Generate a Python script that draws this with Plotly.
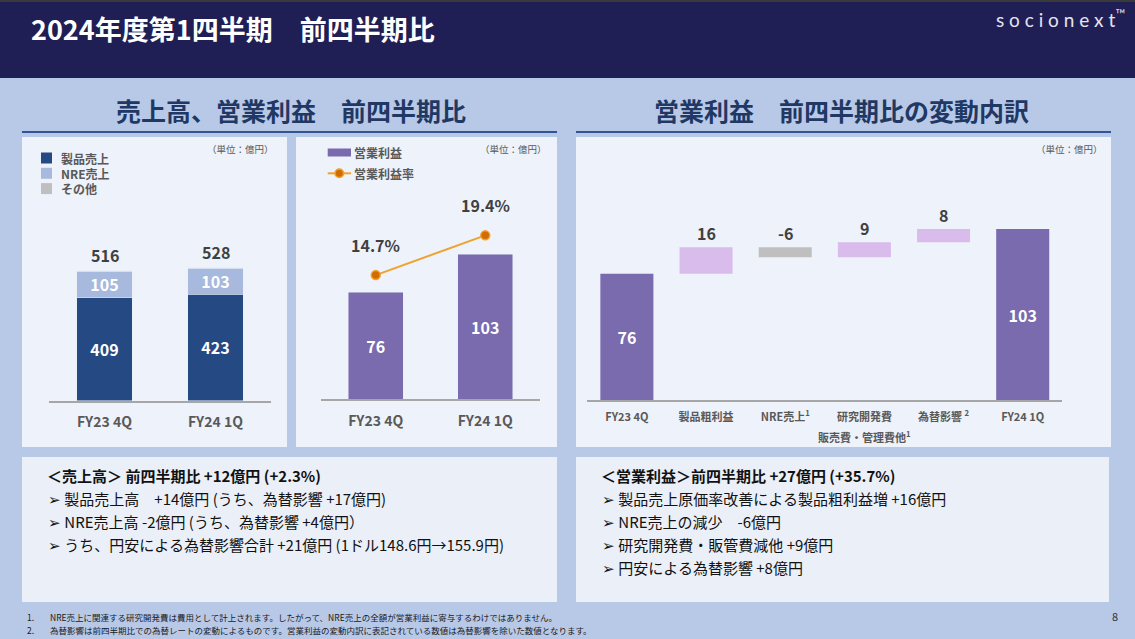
import plotly.graph_objects as go

W, H = 1135, 639

# ---------------- data ----------------
periods = ["FY23 4Q", "FY24 1Q"]
product_sales = [409, 423]
nre_sales = [105, 103]
other_sales = [2, 2]
op_income = [76, 103]
op_margin = [14.7, 19.4]

wf_cats = ["FY23 4Q", "製品粗利益", "NRE売上", "研究開発費", "為替影響", "FY24 1Q"]
wf_ticktext = ["FY23 4Q", "製品粗利益", "NRE売上<sup>1</sup>", "研究開発費",
               "為替影響 <sup>2</sup>", "FY24 1Q"]
wf_values = [76, 16, -6, 9, 8, 103]
wf_measures = ["absolute", "relative", "relative", "relative", "relative", "total"]

sales_legend = ["製品売上", "NRE売上", "その他"]
op_legend = ["営業利益", "営業利益率"]

title_text = "2024年度第1四半期　前四半期比"
left_title = "売上高、営業利益　前四半期比"
right_title = "営業利益　前四半期比の変動内訳"
unit_text = "（単位：億円）"

box1_lines = ["<b>＜売上高＞ 前四半期比 +12億円 (+2.3%)</b>",
              "➢ 製品売上高　+14億円 (うち、為替影響 +17億円)",
              "➢ NRE売上高 -2億円 (うち、為替影響 +4億円）",
              "➢ うち、円安による為替影響合計 +21億円 (1ドル148.6円→155.9円)"]
box2_lines = ["<b>＜営業利益＞前四半期比 +27億円 (+35.7%)</b>",
              "➢ 製品売上原価率改善による製品粗利益増 +16億円",
              "➢ NRE売上の減少　-6億円",
              "➢ 研究開発費・販管費減他 +9億円",
              "➢ 円安による為替影響 +8億円"]
footnotes = ["NRE売上に関連する研究開発費は費用として計上されます。したがって、NRE売上の全額が営業利益に寄与するわけではありません。",
             "為替影響は前四半期比での為替レートの変動によるものです。営業利益の変動内訳に表記されている数値は為替影響を除いた数値となります。"]

# ---------------- style ----------------
FONT = "Noto Sans CJK JP"
C_PROD = "#254A83"
C_NRE = "#A7B9DD"
C_OTHER = "#BFBFBF"
C_OP = "#7A6AAE"
C_LINE = "#F0A22E"
C_MARK = "#D26B00"
C_INC = "#D9BCEB"
C_DEC = "#BFBFBF"
C_LABEL = "#404040"
C_TICK = "#595959"
C_NAVY = "#1F3864"


def X(px):
    return px / W


def Y(py):
    return 1 - py / H


def xd(a, b):
    return [a / W, b / W]


def yd(top, bottom):
    return [1 - bottom / H, 1 - top / H]


fig = go.Figure()

inside_font = dict(color="white", size=16, family=FONT, weight="bold")

# ---- chart 1: stacked sales ----
totals = [p + n + o for p, n, o in zip(product_sales, nre_sales, other_sales)]
fig.add_trace(go.Bar(x=periods, y=product_sales, marker_color=C_PROD, width=0.5,
                     text=[str(v) for v in product_sales], textposition="inside",
                     insidetextanchor="middle", textangle=0, constraintext="none",
                     textfont=inside_font,
                     xaxis="x", yaxis="y", showlegend=False, hoverinfo="skip"))
fig.add_trace(go.Bar(x=periods, y=nre_sales, marker_color=C_NRE, width=0.5,
                     text=[str(v) for v in nre_sales], textposition="inside",
                     insidetextanchor="middle", textangle=0, constraintext="none",
                     textfont=inside_font,
                     xaxis="x", yaxis="y", showlegend=False, hoverinfo="skip"))
fig.add_trace(go.Bar(x=periods, y=other_sales, marker_color=C_OTHER, width=0.5,
                     xaxis="x", yaxis="y", showlegend=False, hoverinfo="skip"))

# ---- chart 2: operating income + margin ----
fig.add_trace(go.Bar(x=periods, y=op_income, marker_color=C_OP, width=0.5,
                     text=[str(v) for v in op_income], textposition="inside",
                     insidetextanchor="middle", textangle=0, constraintext="none",
                     textfont=inside_font,
                     xaxis="x2", yaxis="y2", showlegend=False, hoverinfo="skip"))
fig.add_trace(go.Scatter(x=periods, y=op_margin, mode="lines+markers",
                         line=dict(color=C_LINE, width=2),
                         marker=dict(size=9, color=C_MARK, line=dict(color=C_LINE, width=1.5)),
                         xaxis="x2", yaxis="y4", showlegend=False, hoverinfo="skip"))

# ---- chart 3: waterfall ----
wf_text = [str(v) if m != "relative" else "" for v, m in zip(wf_values, wf_measures)]
fig.add_trace(go.Waterfall(x=wf_cats, y=wf_values, measure=wf_measures, width=0.67,
                           increasing=dict(marker=dict(color=C_INC)),
                           decreasing=dict(marker=dict(color=C_DEC)),
                           totals=dict(marker=dict(color=C_OP)),
                           connector=dict(visible=False),
                           text=wf_text, textposition="inside", insidetextanchor="middle",
                           textangle=0, constraintext="none",
                           insidetextfont=inside_font,
                           xaxis="x3", yaxis="y3", showlegend=False, hoverinfo="skip"))

axis_common = dict(type="category", showline=True, linecolor="#A6A6A6", linewidth=1.5,
                   ticks="", showgrid=False, zeroline=False, fixedrange=True)

fig.update_layout(
    width=W, height=H,
    margin=dict(l=0, r=0, t=0, b=0),
    paper_bgcolor="#B8C8E7",
    plot_bgcolor="rgba(0,0,0,0)",
    barmode="stack",
    font=dict(family=FONT, color=C_TICK),
    xaxis=dict(domain=xd(49, 271), anchor="y",
               tickfont=dict(size=14, color=C_TICK, weight="bold"), ticklabelstandoff=8,
               **axis_common),
    yaxis=dict(domain=yd(150, 400.7), anchor="x", range=[0, 250.7 / 0.2519],
               visible=False, fixedrange=True),
    xaxis2=dict(domain=xd(321, 540), anchor="y2",
                tickfont=dict(size=14, color=C_TICK, weight="bold"), ticklabelstandoff=8,
                **axis_common),
    yaxis2=dict(domain=yd(150, 399.3), anchor="x2", range=[0, 249.3 / 1.406],
                visible=False, fixedrange=True),
    yaxis4=dict(domain=yd(150, 399.3), anchor="x2", overlaying="y2",
                range=[0, 249.3 / 8.45], visible=False, fixedrange=True),
    xaxis3=dict(domain=xd(587.3, 1062.3), anchor="y3",
                tickmode="array", tickvals=wf_cats, ticktext=wf_ticktext,
                tickfont=dict(size=11, color=C_TICK, weight="bold"), ticklabelstandoff=6,
                **axis_common),
    yaxis3=dict(domain=yd(150, 400), anchor="x3", range=[0, 250 / 1.66],
                visible=False, fixedrange=True),
)

shapes = []
# header
shapes.append(dict(type="rect", xref="paper", yref="paper", x0=0, x1=1, y0=Y(78), y1=Y(0),
                   fillcolor="#201F55", line=dict(width=0), layer="below"))
shapes.append(dict(type="rect", xref="paper", yref="paper", x0=0, x1=1, y0=Y(2), y1=Y(0),
                   fillcolor="#3A3A3A", line=dict(width=0), layer="below"))
# panels
for (x0, x1, y0, y1, col) in [(22, 287, 137, 447, "#EEF2FA"), (296, 557, 137, 447, "#EEF2FA"),
                              (576, 1111, 137, 447, "#EEF2FA"),
                              (22, 557, 457, 602, "#EAEFF8"), (576, 1109, 457, 602, "#EAEFF8")]:
    shapes.append(dict(type="rect", xref="paper", yref="paper", x0=X(x0), x1=X(x1),
                       y0=Y(y1), y1=Y(y0), fillcolor=col, line=dict(width=0), layer="below"))
# underlines
for (x0, x1) in [(22, 557), (576, 1111)]:
    shapes.append(dict(type="line", xref="paper", yref="paper", x0=X(x0), x1=X(x1),
                       y0=Y(132), y1=Y(132), line=dict(color="#2F5597", width=2)))
# legend chart 1
for i, col in enumerate([C_PROD, C_NRE, C_OTHER]):
    cy = 158 + i * 15.3
    shapes.append(dict(type="rect", xref="paper", yref="paper", x0=X(41), x1=X(52),
                       y0=Y(cy + 5.5), y1=Y(cy - 5.5), fillcolor=col, line=dict(width=0)))
# legend chart 2
shapes.append(dict(type="rect", xref="paper", yref="paper", x0=X(327.7), x1=X(351),
                   y0=Y(156.5), y1=Y(148.5), fillcolor=C_OP, line=dict(width=0)))
shapes.append(dict(type="line", xref="paper", yref="paper", x0=X(327.7), x1=X(351),
                   y0=Y(173.3), y1=Y(173.3), line=dict(color=C_LINE, width=2)))
shapes.append(dict(type="circle", xref="paper", yref="paper", x0=X(335), x1=X(343.6),
                   y0=Y(177.6), y1=Y(169), fillcolor=C_MARK, line=dict(color=C_LINE, width=1.5)))

anns = []


def ann(text, x, y, size, color, xanchor="center", yanchor="middle", family=FONT, **kw):
    d = dict(text=text, xref="paper", yref="paper", x=X(x), y=Y(y), showarrow=False,
             xanchor=xanchor, yanchor=yanchor, font=dict(size=size, color=color, family=family))
    d.update(kw)
    anns.append(d)


# header texts
ann("<b>" + title_text + "</b>", 29, 29, 27, "white", xanchor="left")
ann("s o c i o n e x t<sup>™</sup>", 1127, 19, 19, "#E4E4EC", xanchor="right", family="Lato")
# section titles
ann("<b>" + left_title + "</b>", 291, 110, 25, C_NAVY)
ann("<b>" + right_title + "</b>", 841, 110, 25, C_NAVY)
# units
for xr in [276, 549, 1105]:
    ann(unit_text, xr, 149, 9.5, C_TICK, xanchor="right")
# legends text
for i, t in enumerate(sales_legend):
    ann("<b>" + t + "</b>", 59, 158 + i * 15.3, 12, C_TICK, xanchor="left")
ann("<b>" + op_legend[0] + "</b>", 352, 152.5, 12, C_TICK, xanchor="left")
ann("<b>" + op_legend[1] + "</b>", 352, 173.3, 12, C_TICK, xanchor="left")

# totals above sales bars
for p, t in zip(periods, totals):
    anns.append(dict(text="<b>%d</b>" % t, xref="x", yref="y", x=p, y=t, showarrow=False,
                     yanchor="bottom", yshift=2, font=dict(size=16, color=C_LABEL, family=FONT)))
# margin labels
for p, m in zip(periods, op_margin):
    anns.append(dict(text="<b>%.1f%%</b>" % m, xref="x2", yref="y4", x=p, y=m, showarrow=False,
                     yanchor="middle", yshift=30, font=dict(size=16, color=C_LABEL, family=FONT)))
# waterfall delta labels
cum = 0
for c, v, m in zip(wf_cats, wf_values, wf_measures):
    if m == "absolute":
        cum = v
    elif m == "relative":
        top = max(cum, cum + v)
        cum += v
        anns.append(dict(text="<b>%d</b>" % v, xref="x3", yref="y3", x=c, y=top, showarrow=False,
                         yanchor="bottom", yshift=0,
                         font=dict(size=16, color=C_LABEL, family=FONT)))
# second line of waterfall tick
anns.append(dict(text="<b>販売費・管理費他<sup>1</sup></b>", xref="x3", yref="paper", x=wf_cats[3],
                 y=Y(436.5), showarrow=False, yanchor="middle",
                 font=dict(size=11, color=C_TICK, family=FONT)))

# text boxes
for i, t in enumerate(box1_lines):
    ann(t, 45 if i == 0 else 46, 475.5 + i * 23, 15, "#111111", xanchor="left")
for i, t in enumerate(box2_lines):
    ann(t, 599 if i == 0 else 600, 475.5 + i * 23, 15, "#111111", xanchor="left")

# footnotes
for i, t in enumerate(footnotes):
    ann("%d." % (i + 1), 25, 617 + i * 13, 8.5, "#1A1A1A", xanchor="left")
    ann(t, 48, 617 + i * 13, 8.5, "#1A1A1A", xanchor="left")
ann("8", 1120, 616, 11, "#333333", xanchor="right")

fig.update_layout(shapes=shapes, annotations=anns)
fig.write_html("out.html", config={"displayModeBar": False},
               post_script="document.body.style.margin='0';")
